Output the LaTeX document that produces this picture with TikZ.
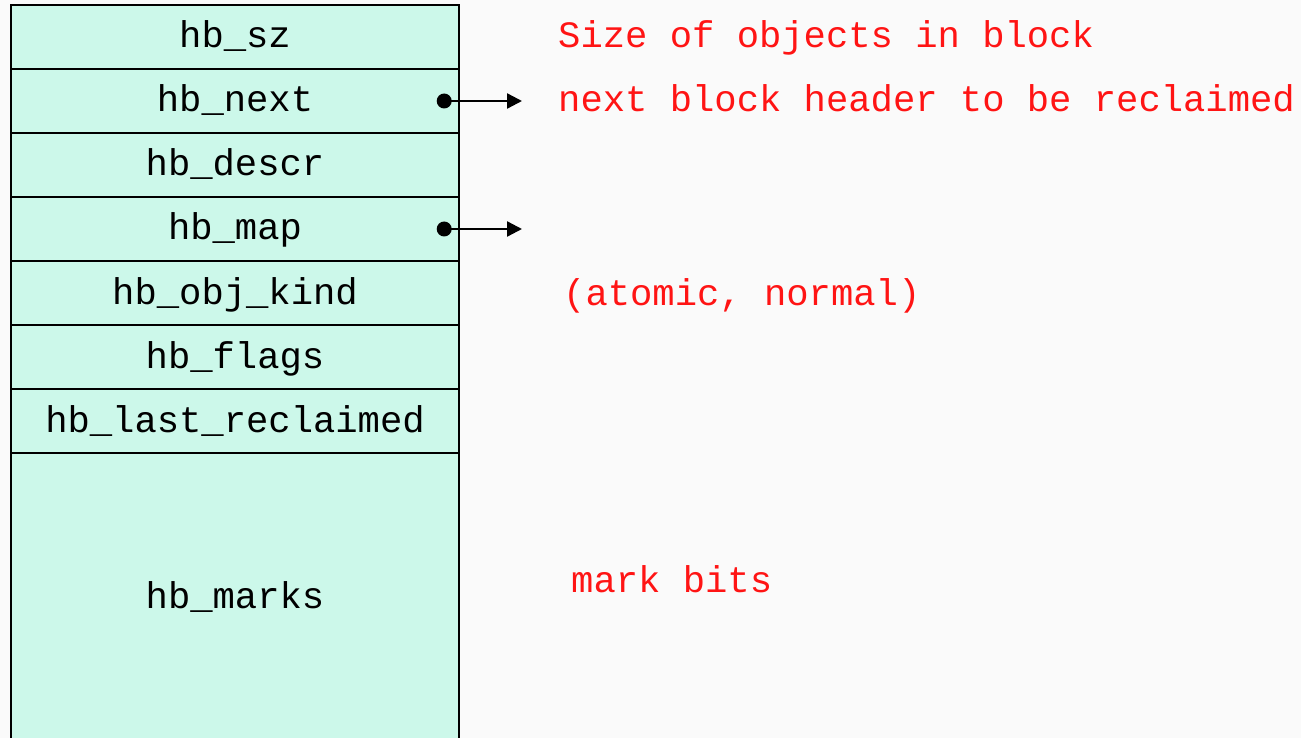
\documentclass[tikz,border=0pt]{standalone}
\usepackage{fontspec}
\setmonofont{Liberation Mono}
\usetikzlibrary{arrows.meta}
\definecolor{cellfill}{RGB}{204,248,234}
\definecolor{notered}{RGB}{255,20,20}
\definecolor{paper}{RGB}{250,250,250}
\tikzset{
  cell/.style={draw=black, line width=2.4pt, fill=cellfill, minimum width=448pt,
    inner sep=0pt, text height=30pt, text depth=8pt,
    font=\ttfamily\fontsize{37.2}{44}\selectfont},
  note/.style={anchor=base west, inner sep=0pt, text=notered,
    font=\ttfamily\fontsize{37.2}{44}\selectfont},
  ptr/.style={line width=2.4pt, -{Triangle[length=15pt,width=15pt]}},
  dot/.style={fill=black}
}
\begin{document}
\begin{tikzpicture}[x=1pt,y=-1pt]
\useasboundingbox (0,0) rectangle (1301,738);
\clip (0,0) rectangle (1301,738);
\fill[paper] (0,0) rectangle (1301,738);

% header block fields, 64pt per row
\node[cell, minimum height=64pt] (sz)    at (235,37)  {hb\_sz};
\node[cell, minimum height=64pt] (next)  at (235,101) {hb\_next};
\node[cell, minimum height=64pt] (descr) at (235,165) {hb\_descr};
\node[cell, minimum height=64pt] (map)   at (235,229) {hb\_map};
\node[cell, minimum height=64pt] (kind)  at (235,293) {hb\_obj\_kind};
\node[cell, minimum height=64pt] (flags) at (235,357) {hb\_flags};
\node[cell, minimum height=64pt] (last)  at (235,421) {hb\_last\_reclaimed};
\node[cell, minimum height=288pt] (marks) at (235,597) {hb\_marks};

% annotations
\node[note] (nsz)    at (558,48)  {Size of objects in block};
\node[note] (nnext)  at (558,112) {next block header to be reclaimed};
\node[note] (nkind)  at (563,305) {(atomic, normal)};
\node[note] (nmarks) at (571,592) {mark bits};

% pointer fields
\coordinate (p1) at ([xshift=-16pt]next.east);
\coordinate (p2) at ([xshift=-16pt]map.east);
\coordinate (t1) at (522,101);
\coordinate (t2) at (522,229);
\fill[dot] (p1) circle (7.5pt);
\fill[dot] (p2) circle (7.5pt);
\draw[ptr] (p1) -- (t1);
\draw[ptr] (p2) -- (t2);
\end{tikzpicture}
\end{document}
